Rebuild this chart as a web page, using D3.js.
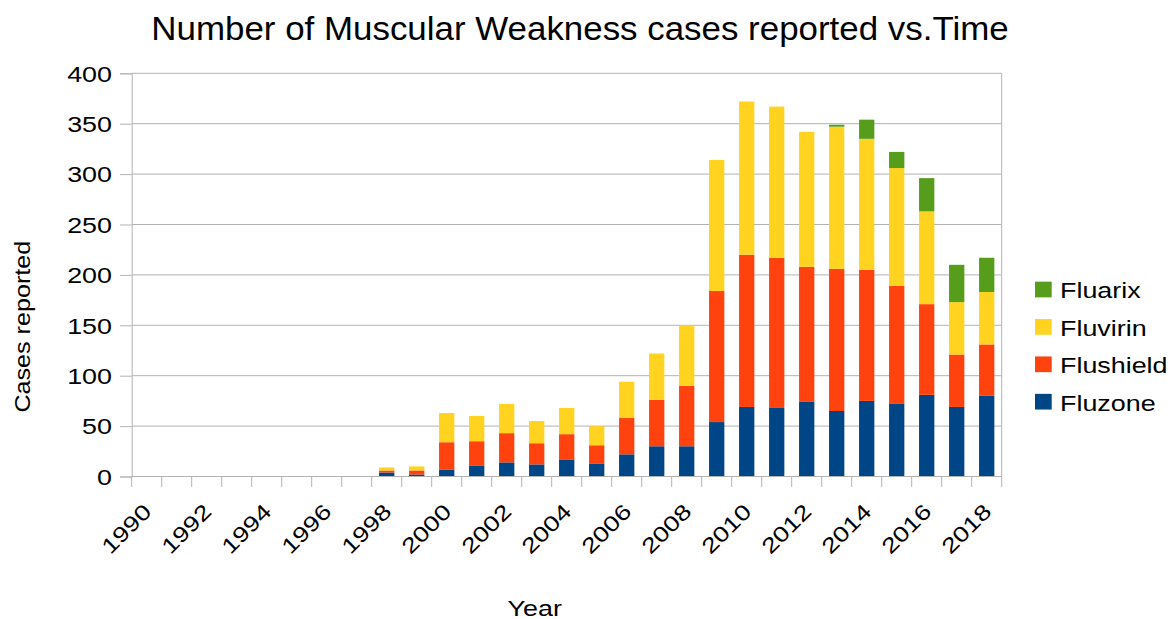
<!DOCTYPE html>
<meta charset="utf-8">
<style>
    body { margin: 0; background: #fff; }
    text { font-family: "Liberation Sans", Arial, sans-serif; fill: #000; }
    .grid line { stroke: #b3b3b3; }
</style>
<body>
<div id="chart"></div>
<script src="https://cdn.jsdelivr.net/npm/d3@7/dist/d3.min.js"></script>
<script type="text/javascript">

    // data
    var years = d3.range(1990, 2019);
    var seriesNames = ["Fluzone", "Flushield", "Fluvirin", "Fluarix"];
    var fluzone   = [0,0,0,0,0,0,0,0, 4, 2, 7,11,14,12,17,13,22,30,30, 54, 69, 68, 74, 65, 75, 72,81,69,80];
    var flushield = [0,0,0,0,0,0,0,0, 2, 4,27,24,29,21,25,18,36,46,60,130,151,149,134,141,130,117,90,52,51];
    var fluvirin  = [0,0,0,0,0,0,0,0, 3, 4,29,25,29,22,26,19,36,46,60,130,152,150,134,141,130,117,92,52,52];
    var fluarix   = [0,0,0,0,0,0,0,0, 0, 0, 0, 0, 0, 0, 0, 0, 0, 0, 0,  0,  0,  0,  0,  2, 19, 16,33,37,34];
    var yTicks = [0, 50, 100, 150, 200, 250, 300, 350, 400];
    var colors = ["#004586", "#ff420e", "#ffd320", "#579d1c"];

    // dims
    var W = 1173, H = 619,
        margin = { left: 131.7, right: W - 1001.7, top: 73.3, bottom: H - 476.5 };

    // the labels use a font that is wider than usual
    var wide = 1.25;

    var rows = years.map(function (yr, i) {
        return { year: yr, Fluzone: fluzone[i], Flushield: flushield[i], Fluvirin: fluvirin[i], Fluarix: fluarix[i] };
    });

    var x = d3.scaleBand().domain(years).range([margin.left, W - margin.right]).paddingInner(0.49).paddingOuter(0.245),
        xb = d3.scaleBand().domain(years).range([margin.left, W - margin.right]),
        y = d3.scaleLinear().domain([0, 400]).range([H - margin.bottom, margin.top]);

    var svg = d3.select("#chart").append("svg")
        .attr("width", W)
        .attr("height", H);

    // gridlines
    svg.append("g").attr("class", "grid")
        .selectAll("line").data(yTicks).enter().append("line")
        .attr("x1", margin.left).attr("x2", W - margin.right)
        .attr("y1", function (d) { return y(d); })
        .attr("y2", function (d) { return y(d); });

    svg.append("line")
        .attr("x1", W - margin.right).attr("x2", W - margin.right)
        .attr("y1", y(400)).attr("y2", y(0))
        .attr("stroke", "#b3b3b3");

    // stacked bars
    var stack = d3.stack().keys(seriesNames)(rows);

    svg.append("g").selectAll("g").data(stack).enter().append("g")
        .attr("fill", function (d, i) { return colors[i]; })
        .selectAll("rect").data(function (d) { return d; }).enter().append("rect")
        .attr("x", function (d) { return x(d.data.year); })
        .attr("width", x.bandwidth())
        .attr("y", function (d) { return y(d[1]); })
        .attr("height", function (d) { return y(d[0]) - y(d[1]); });

    // y axis
    var yAxis = svg.append("g")
        .attr("transform", "translate(" + margin.left + ",0)")
        .call(d3.axisLeft(y).tickValues(yTicks).tickSize(11.7).tickFormat(""));
    yAxis.select(".domain").attr("stroke", "#b3b3b3");
    yAxis.selectAll(".tick line").attr("stroke", "#b3b3b3");

    svg.append("g").selectAll("text").data(yTicks).enter().append("text")
        .attr("font-size", 21.5)
        .attr("text-anchor", "end")
        .attr("transform", function (d) { return "translate(112," + (y(d) + 8.3) + ") scale(" + wide + ",1)"; })
        .text(function (d) { return d; });

    // x axis
    var xAxis = svg.append("g")
        .attr("transform", "translate(0," + y(0) + ")");
    xAxis.append("line")
        .attr("x1", margin.left).attr("x2", W - margin.right)
        .attr("stroke", "#b3b3b3");
    xAxis.selectAll(".xt").data(d3.range(years.length + 1)).enter().append("line")
        .attr("x1", function (i) { return margin.left + i * xb.step(); })
        .attr("x2", function (i) { return margin.left + i * xb.step(); })
        .attr("y1", 0).attr("y2", 10.5)
        .attr("stroke", "#b3b3b3");

    svg.append("g").selectAll("text").data(years.filter(function (d) { return d % 2 === 0; })).enter().append("text")
        .attr("font-size", 21.5)
        .attr("text-anchor", "end")
        .attr("transform", function (d) {
            return "translate(" + (xb(d) + xb.bandwidth() / 2 + 6) + ",513) rotate(-45) scale(" + wide + ",1)";
        })
        .text(function (d) { return d; });

    // titles
    svg.append("text")
        .attr("transform", "translate(580,40) scale(1.074,1)")
        .attr("text-anchor", "middle")
        .attr("font-size", 32.5)
        .text("Number of Muscular Weakness cases reported vs.Time");

    svg.append("text")
        .attr("transform", "translate(534.7,616) scale(" + wide + ",1)")
        .attr("text-anchor", "middle")
        .attr("font-size", 21.5)
        .text("Year");

    svg.append("text")
        .attr("transform", "translate(29.5,326.7) rotate(-90) scale(1.17,1)")
        .attr("text-anchor", "middle")
        .attr("font-size", 21.5)
        .text("Cases reported");

    // legend
    var legendNames = seriesNames.slice().reverse();
    var legend = svg.append("g").selectAll("g").data(legendNames).enter().append("g")
        .attr("transform", function (d, i) { return "translate(1035," + (289.5 + i * 37.4) + ")"; });
    legend.append("rect")
        .attr("x", 0).attr("y", -7.85)
        .attr("width", 16.7).attr("height", 15.7)
        .attr("fill", function (d) { return colors[seriesNames.indexOf(d)]; });
    legend.append("text")
        .attr("transform", "translate(25,8.8) scale(" + wide + ",1)")
        .attr("font-size", 21.5)
        .text(function (d) { return d; });

</script>
</body>
